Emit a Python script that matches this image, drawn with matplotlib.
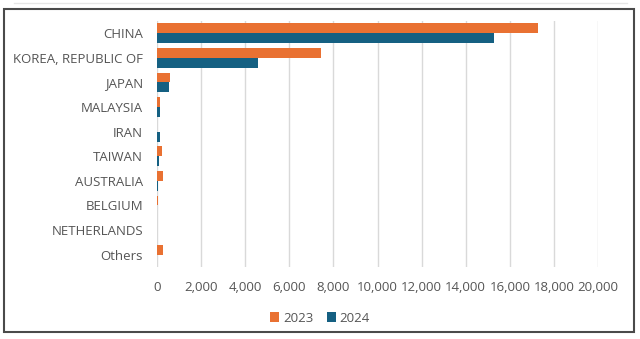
import matplotlib
matplotlib.use("Agg")
import matplotlib.pyplot as plt
import numpy as np
from matplotlib.patches import Rectangle
from matplotlib.lines import Line2D

countries = ["CHINA", "KOREA, REPUBLIC OF", "JAPAN", "MALAYSIA", "IRAN",
             "TAIWAN", "AUSTRALIA", "BELGIUM", "NETHERLANDS", "Others"]
values_2023 = [17300, 7450, 590, 120, 0, 240, 260, 30, 0, 260]
values_2024 = [15280, 4570, 530, 150, 150, 100, 50, 0, 0, 0]
xticks = list(range(0, 20001, 2000))

ORANGE = "#E97132"
BLUE = "#156082"
TEXT = "#555555"

plt.rcParams["font.family"] = ["Open Sans", "DejaVu Sans"]

fig = plt.figure(figsize=(6.4, 3.39), dpi=100)
ax = fig.add_axes([157 / 640, 1 - 267 / 339, 441 / 640, 246 / 339])

y = np.arange(len(countries))
h = 0.4
ax.barh(y - h / 2, values_2023, height=h, color=ORANGE, label="2023", zorder=3)
ax.barh(y + h / 2, values_2024, height=h, color=BLUE, label="2024", zorder=3)

ax.set_ylim(len(countries) - 0.5, -0.5)
ax.set_xlim(0, 20000)
ax.set_yticks(y)
ax.set_yticklabels(countries)
ax.set_xticks(xticks)
ax.set_xticklabels([f"{v:,}" for v in xticks])
ax.tick_params(axis="both", length=0, labelsize=9.5, labelcolor=TEXT)
ax.tick_params(axis="y", pad=10)
ax.tick_params(axis="x", pad=10)
ax.grid(axis="x", color="#d9d9d9", linewidth=1, zorder=0)
for s in ax.spines.values():
    s.set_visible(False)

fig.legend(loc="center", bbox_to_anchor=(0.5, 1 - 318 / 339), ncol=2, frameon=False,
           fontsize=9.5, labelcolor=TEXT, handlelength=0.7, handleheight=0.7,
           handletextpad=0.3, columnspacing=1.0)

# outer frame and faint rule above it
fig.patches.append(Rectangle((4 / 640, 1 - 332 / 339), 630 / 640, 323 / 339,
                             transform=fig.transFigure, fill=False,
                             edgecolor="#4a4a4a", linewidth=1.5))
fig.lines.append(Line2D([14 / 640, 627 / 640], [1 - 3 / 339, 1 - 3 / 339],
                        transform=fig.transFigure, color="#e6e6e6", linewidth=1))

fig.savefig("out.png", dpi=100)
plt.close(fig)
